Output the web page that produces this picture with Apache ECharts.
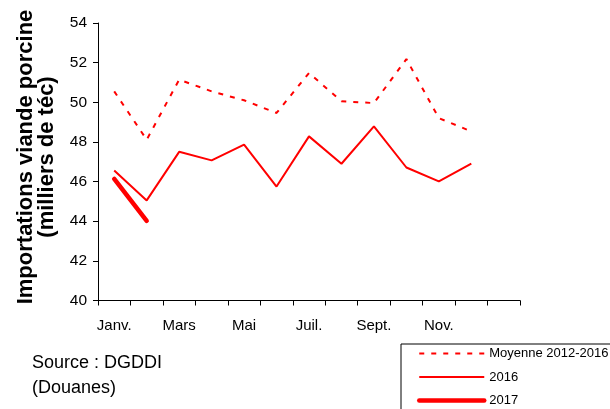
<!DOCTYPE html>
<html>
<head>
<meta charset="utf-8">
<script src="https://cdn.jsdelivr.net/npm/echarts@6/dist/echarts.min.js"></script>
<style>
html,body{margin:0;padding:0;background:#fff;}
#chart{width:610px;height:409px;}
</style>
</head>
<body>
<div id="chart"></div>
<script>
const months = ['Janv.','Févr.','Mars','Avr.','Mai','Juin','Juil.','Août','Sept.','Oct.','Nov.','Déc.',''];
const moyenne = [50.55,48.11,51.14,50.55,50.1,49.46,51.48,50.05,49.96,52.18,49.2,48.53];
const y2016 = [46.56,45.05,47.5,47.07,47.86,45.75,48.28,46.9,48.78,46.71,46.01,46.9];
const y2017 = [46.13,44.02];
const yTicks = [40,42,44,46,48,50,52,54];

const font = 'Liberation Sans, Arial, sans-serif';
const chart = echarts.init(document.getElementById('chart'));
chart.setOption({
  animation: false,
  backgroundColor: '#fff',
  grid: {left: 98, right: 90, top: 23, bottom: 108.5},
  xAxis: {
    type: 'category',
    data: months,
    boundaryGap: true,
    axisLine: {lineStyle: {color: '#000', width: 1}},
    axisTick: {show: true, length: 5, alignWithLabel: false, interval: 0, lineStyle: {color: '#000'}},
    axisLabel: {interval: 1, color: '#000', fontSize: 15, fontFamily: font, margin: 18},
    splitLine: {show: false}
  },
  yAxis: {
    type: 'value',
    min: yTicks[0], max: yTicks[yTicks.length-1], interval: 2,
    axisLine: {show: true, lineStyle: {color: '#000', width: 1}},
    axisTick: {show: true, length: 5, lineStyle: {color: '#000'}},
    axisLabel: {color: '#000', fontSize: 15.5, fontFamily: font, margin: 11},
    splitLine: {show: false}
  },
  legend: {
    orient: 'vertical',
    left: 401, top: 344, height: 120,
    padding: [3, 60, 20, 16],
    borderColor: '#000', borderWidth: 1,
    itemWidth: 65, itemHeight: 14, itemGap: 10.5,
    itemStyle: {opacity: 0},
    textStyle: {color: '#000', fontSize: 13, fontFamily: font},
    data: [
      {name: 'Moyenne 2012-2016', lineStyle: {width: 2, type: [5, 7]}},
      {name: '2016', lineStyle: {width: 2}},
      {name: '2017', lineStyle: {width: 4.5}}
    ]
  },
  graphic: [
    {type: 'text', x: 36, y: 157, rotation: Math.PI/2,
     style: {text: 'Importations viande porcine\n(milliers de téc)', fill: '#000',
       font: 'bold 22px ' + font, align: 'center', verticalAlign: 'middle', lineHeight: 21}},
    {type: 'text', x: 32, y: 351,
     style: {text: 'Source : DGDDI\n(Douanes)', fill: '#000',
       font: '18px ' + font, align: 'left', verticalAlign: 'top', lineHeight: 25}}
  ],
  series: [
    {name: 'Moyenne 2012-2016', type: 'line', data: moyenne, symbol: 'none',
     lineStyle: {color: '#ff0000', width: 2, type: [5, 7]}, itemStyle: {color: '#ff0000'}},
    {name: '2016', type: 'line', data: y2016, symbol: 'none',
     lineStyle: {color: '#ff0000', width: 2}, itemStyle: {color: '#ff0000'}},
    {name: '2017', type: 'line', data: y2017, symbol: 'none',
     lineStyle: {color: '#ff0000', width: 4.5, cap: 'round'}, itemStyle: {color: '#ff0000'}}
  ]
});
</script>
</body>
</html>
